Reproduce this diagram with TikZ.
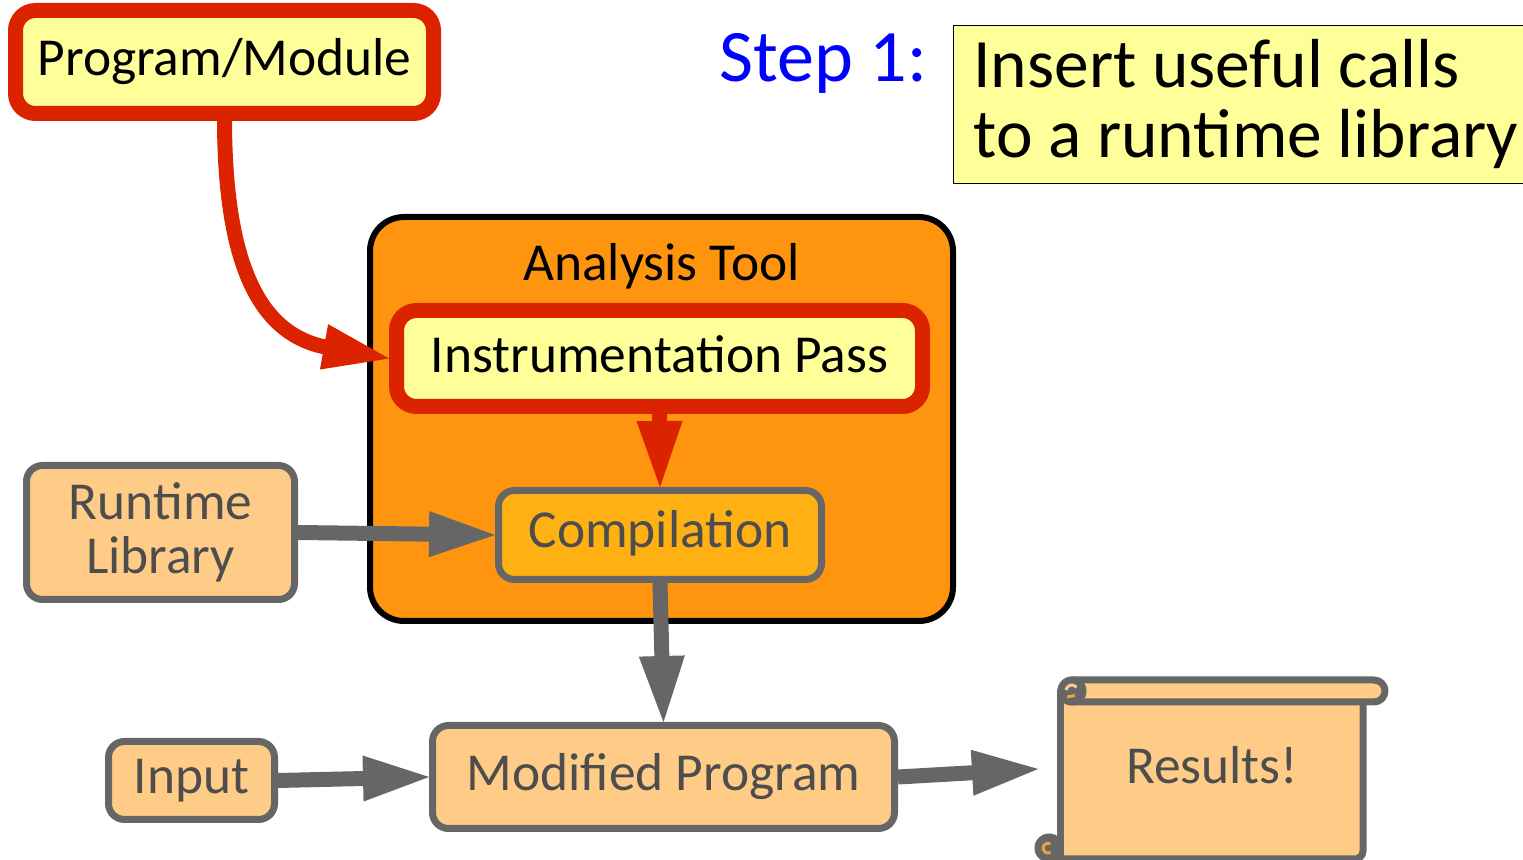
\documentclass[tikz,border=0pt]{standalone}
\usepackage{fontspec}
\setmainfont{Carlito}
\usetikzlibrary{arrows.meta}
\definecolor{fillyellow}{HTML}{FFFF99}
\definecolor{fillpeach}{HTML}{FFCC88}
\definecolor{fillorange}{HTML}{FF950E}
\definecolor{fillamber}{HTML}{FFB114}
\definecolor{curlorange}{HTML}{E8A33D}
\definecolor{linered}{HTML}{DC2300}
\definecolor{linegray}{HTML}{666666}
\definecolor{textgray}{HTML}{4D4D4D}
\tikzset{
	redbox/.style={draw=linered,line width=7.5pt,fill=fillyellow,rounded corners=10pt,inner sep=0pt,text=black},
	graybox/.style={draw=linegray,line width=3.5pt,fill=fillpeach,rounded corners=8pt,inner sep=0pt,text=textgray,align=center,font=\fontsize{26.7}{27}\selectfont},
	redarrow/.style={draw=linered,line width=7.5pt,line cap=butt,shorten >=-2pt,-{Triangle[length=35pt,width=20.5pt]}},
	grayarrow/.style={draw=linegray,line width=7.5pt,line cap=butt,shorten >=-2pt,-{Triangle[length=35pt,width=20.5pt]}}
}
\begin{document}
\begin{tikzpicture}[line cap=round,line join=round,x=0.5pt,y=-0.5pt]
	\clip(0,0) rectangle (1523,860);
	\node [draw=black,line width=3pt,fill=fillorange,rounded corners=17pt,minimum width=291.5pt,minimum height=202pt,inner sep=0pt] (tool) at (661.5,419) {};
	\node [font=\fontsize{26.7}{27}\selectfont] (toollabel) at (661.5,266) {Analysis Tool};
	\node [redbox,minimum width=209pt,minimum height=51.5pt,font=\fontsize{26.7}{27}\selectfont] (program) at (224.5,62) {Program/Module};
	\node [redbox,minimum width=263pt,minimum height=48pt,text depth=4.5pt,font=\fontsize{26.7}{27}\selectfont] (pass) at (659.5,358.5) {Instrumentation Pass};
	\node [graybox,fill=fillamber,minimum width=161.5pt,minimum height=44.5pt,text depth=6.3pt] (compile) at (660,535) {Compilation};
	\node [graybox,minimum width=134pt,minimum height=67pt] (runtime) at (160.5,532.5) {Runtime\\Library};
	\node [graybox,minimum width=83pt,minimum height=39pt] (input) at (191.5,780.5) {Input};
	\node [graybox,minimum width=231pt,minimum height=51.5pt] (modified) at (663.5,777) {Modified Program};
	\node [draw=black,line width=0.5pt,fill=fillyellow,minimum width=300pt,minimum height=79pt,inner sep=0pt] (notebox) at (1253.5,104.5) {};
	\node [anchor=north west,align=left,inner sep=0pt,font=\fontsize{34.7}{35}\selectfont] (note) at (973,39) {Insert useful calls\\to a runtime library};
	\node [text=blue,font=\fontsize{37}{39}\selectfont] (step) at (823,63.5) {Step 1:};
	\fill [fillpeach] (1060.5,702) -- (1363,702) -- (1363,851) -- (1355,859) -- (1060.5,859) -- cycle;
	\draw [linegray,line width=3.5pt] (1060.5,691) -- (1060.5,859);
	\draw [linegray,line width=3.5pt] (1363,702) -- (1363,851) arc (0:90:8) -- (1049,859);
	\draw [linegray,line width=3.5pt,fill=fillpeach] (1072,680) -- (1374,680) arc (-90:90:11) -- (1072,702) arc (90:270:11) -- cycle;
	\fill [linegray] (1049,848) circle (14.5);
	\draw [curlorange,line width=1.5pt,line cap=butt] (1050.5,843.7) arc (-60:-300:5);
	\fill [linegray] (1072,691) circle (14.5);
	\draw [fillpeach,line width=1.5pt,line cap=butt] (1066.1,690) arc (-170:-40:6);
	\draw [curlorange,line width=1.5pt,line cap=butt] (1067,697) -- (1075,695.5);
	\node [text=textgray,font=\fontsize{26.7}{27}\selectfont] (results) at (1212,765) {Results!};
	\coordinate (resultsin) at (1038,769);
	\draw [redarrow] (program.south) .. controls (225,262) and (258,335) .. (pass.west);
	\draw [redarrow] (pass.south) -- (compile.north);
	\draw [grayarrow] (runtime.east) -- (compile.west);
	\draw [grayarrow] (compile.south) -- (modified.north);
	\draw [grayarrow] (input.east) -- (modified.west);
	\draw [grayarrow] (modified.east) -- (resultsin);
\end{tikzpicture}
\end{document}
